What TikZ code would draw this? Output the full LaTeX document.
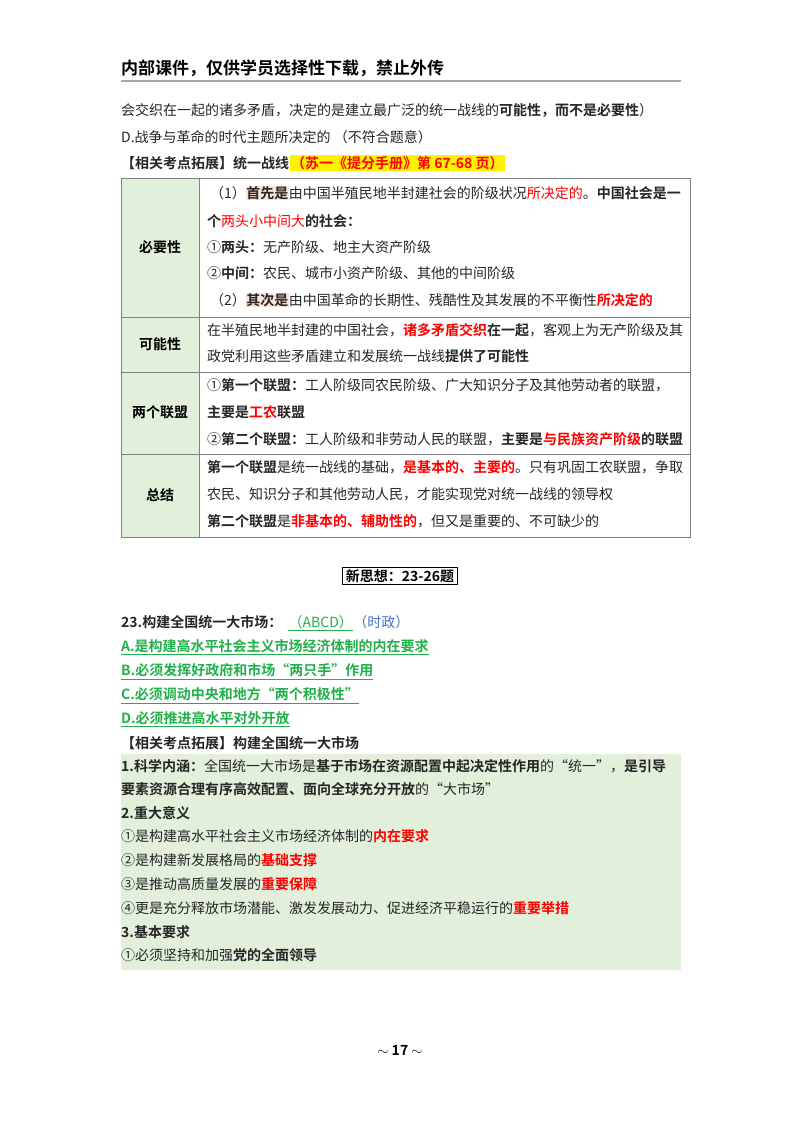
\documentclass[tikz,border=0pt]{standalone}
\usepackage{fontspec}
\setmainfont{Noto Sans CJK SC}[BoldFont={Noto Sans CJK SC Bold}]
\usepackage{xcolor}
\definecolor{tgreen}{HTML}{E2EFDA}
\definecolor{ansgreen}{HTML}{22B04B}
\definecolor{ansblue}{HTML}{4472C4}
\definecolor{hlorange}{HTML}{FBE3D6}
\newcommand\hr[1]{\textcolor{red}{\textbf{#1}}}
\newcommand\hb[1]{\textbf{#1}}
\newcommand\ho[1]{{\setlength{\fboxsep}{0.5pt}\colorbox{hlorange}{\textbf{#1}}}}
\begin{document}
\begin{tikzpicture}[x=1pt,y=-1pt,
  txt/.style={anchor=west,inner sep=0pt,font=\fontsize{14}{16}\selectfont,text=black!85},
  hd/.style={anchor=west,inner sep=0pt,font=\fontsize{17}{20}\selectfont\bfseries},
  ans/.style={txt,text=ansgreen,font=\fontsize{14}{16}\selectfont\bfseries},
  lab/.style={anchor=center,inner sep=0pt,font=\fontsize{14}{16}\selectfont\bfseries}]
\useasboundingbox (0,0) rectangle (800,1132);
\fill[white] (0,0) rectangle (800,1132);
% header
\node[hd] (hdr) at (121,68) {内部课件，仅供学员选择性下载，禁止外传};
\draw[gray!70,line width=1.2pt] (121,81) -- (681,81);
\node[txt] (l1) at (121,110) {会交织在一起的诸多矛盾，决定的是建立最广泛的统一战线的\hb{可能性，而不是必要性}）};
\node[txt] (l2) at (121,137) {D.战争与革命的时代主题所决定的 （不符合题意）};
\node[txt] (l3) at (121,163) {\hb{【相关考点拓展】统一战线}};
\node[anchor=west,fill=yellow,inner sep=1.5pt,font=\fontsize{14}{16}\selectfont\bfseries,text=red] (hl) at (l3.east) {（苏一《提分手册》第 67-68 页）};
% table
\fill[tgreen] (121,178) rectangle (199,537);
\draw[gray,line width=0.9pt] (121,178) rectangle (690,537);
\draw[gray,line width=0.9pt] (199,178) -- (199,537);
\foreach \yy in {317,372,454} \draw[gray,line width=0.9pt] (121,\yy) -- (690,\yy);
\node[lab] (c1) at (160,247) {必要性};
\node[lab] (c2) at (160,344) {可能性};
\node[lab] (c3) at (160,412) {两个联盟};
\node[lab] (c4) at (160,495) {总结};
\node[txt] (r1a) at (210,193) {（1）\ho{首先是}由中国半殖民地半封建社会的阶级状况\textcolor{red}{所决定的}。\hb{中国社会是一}};
\node[txt] (r1b) at (207,221) {\hb{个}\textcolor{red}{两头小中间大}\hb{的社会：}};
\node[txt] (r1c) at (207,247) {①\hb{两头：}无产阶级、地主大资产阶级};
\node[txt] (r1d) at (207,273) {②\hb{中间：}农民、城市小资产阶级、其他的中间阶级};
\node[txt] (r1e) at (210,300) {（2）\ho{其次是}由中国革命的长期性、残酷性及其发展的不平衡性\hr{所决定的}};
\node[txt] (r2a) at (207,330) {在半殖民地半封建的中国社会，\hr{诸多矛盾交织}\hb{在一起}，客观上为无产阶级及其};
\node[txt] (r2b) at (207,356) {政党利用这些矛盾建立和发展统一战线\hb{提供了可能性}};
\node[txt] (r3a) at (207,385) {①\hb{第一个联盟：}工人阶级同农民阶级、广大知识分子及其他劳动者的联盟，};
\node[txt] (r3b) at (207,412) {\hb{主要是}\hr{工农}\hb{联盟}};
\node[txt] (r3c) at (207,439) {②\hb{第二个联盟：}工人阶级和非劳动人民的联盟，\hb{主要是}\hr{与民族资产阶级}\hb{的联盟}};
\node[txt] (r4a) at (207,467) {\hb{第一个联盟}是统一战线的基础，\hr{是基本的、主要的}。只有巩固工农联盟，争取};
\node[txt] (r4b) at (207,494) {农民、知识分子和其他劳动人民，才能实现党对统一战线的领导权};
\node[txt] (r4c) at (207,521) {\hb{第二个联盟}是\hr{非基本的、辅助性的}，但又是重要的、不可缺少的};
% new section box
\node[draw=black,line width=0.8pt,inner xsep=3pt,inner ysep=2pt,font=\fontsize{14}{16}\selectfont\bfseries] (nsx) at (400,576) {新思想：23-26题};
\node[txt] (q23) at (121,622) {\hb{23.构建全国统一大市场：}};
\node[anchor=west,inner sep=0pt,font=\fontsize{14}{16}\selectfont,text=ansgreen] (abcd) at ([xshift=6pt]q23.east) {（ABCD）};
\draw[ansgreen,line width=0.8pt] ([yshift=-2pt]abcd.south west) -- ([yshift=-2pt]abcd.south east);
\node[anchor=west,inner sep=0pt,font=\fontsize{14}{16}\selectfont,text=ansblue] (sz) at (abcd.east) {（时政）};
\node[ans] (oA) at (121,646) {A.是构建高水平社会主义市场经济体制的内在要求};
\node[ans] (oB) at (121,670) {B.必须发挥好政府和市场“两只手”作用};
\node[ans] (oC) at (121,694) {C.必须调动中央和地方“两个积极性”};
\node[ans] (oD) at (121,718) {D.必须推进高水平对外开放};
\foreach \o in {oA,oB,oC,oD} \draw[ansgreen,line width=0.8pt] ([yshift=-2pt]\o.south west) -- ([yshift=-2pt]\o.south east);
\node[txt] (ext) at (121,743) {\hb{【相关考点拓展】构建全国统一大市场}};
\fill[tgreen] (121,754) rectangle (681,970);
\node[txt] (g1) at (121,766) {\hb{1.科学内涵：}全国统一大市场是\hb{基于市场在资源配置中起决定性作用}的“统一”，\hb{是引导}};
\node[txt] (g2) at (121,789) {\hb{要素资源合理有序高效配置、面向全球充分开放}的“大市场”};
\node[txt] (g3) at (121,813) {\hb{2.重大意义}};
\node[txt] (g4) at (121,836) {①是构建高水平社会主义市场经济体制的\hr{内在要求}};
\node[txt] (g5) at (121,860) {②是构建新发展格局的\hr{基础支撑}};
\node[txt] (g6) at (121,884) {③是推动高质量发展的\hr{重要保障}};
\node[txt] (g7) at (121,908) {④更是充分释放市场潜能、激发发展动力、促进经济平稳运行的\hr{重要举措}};
\node[txt] (g8) at (121,932) {\hb{3.基本要求}};
\node[txt] (g9) at (121,955) {①必须坚持和加强\hb{党的全面领导}};
\node[anchor=center,inner sep=0pt,font=\fontsize{14}{16}\selectfont\bfseries] (foot) at (400,1050) {$\sim$ 17 $\sim$};
\end{tikzpicture}
\end{document}
